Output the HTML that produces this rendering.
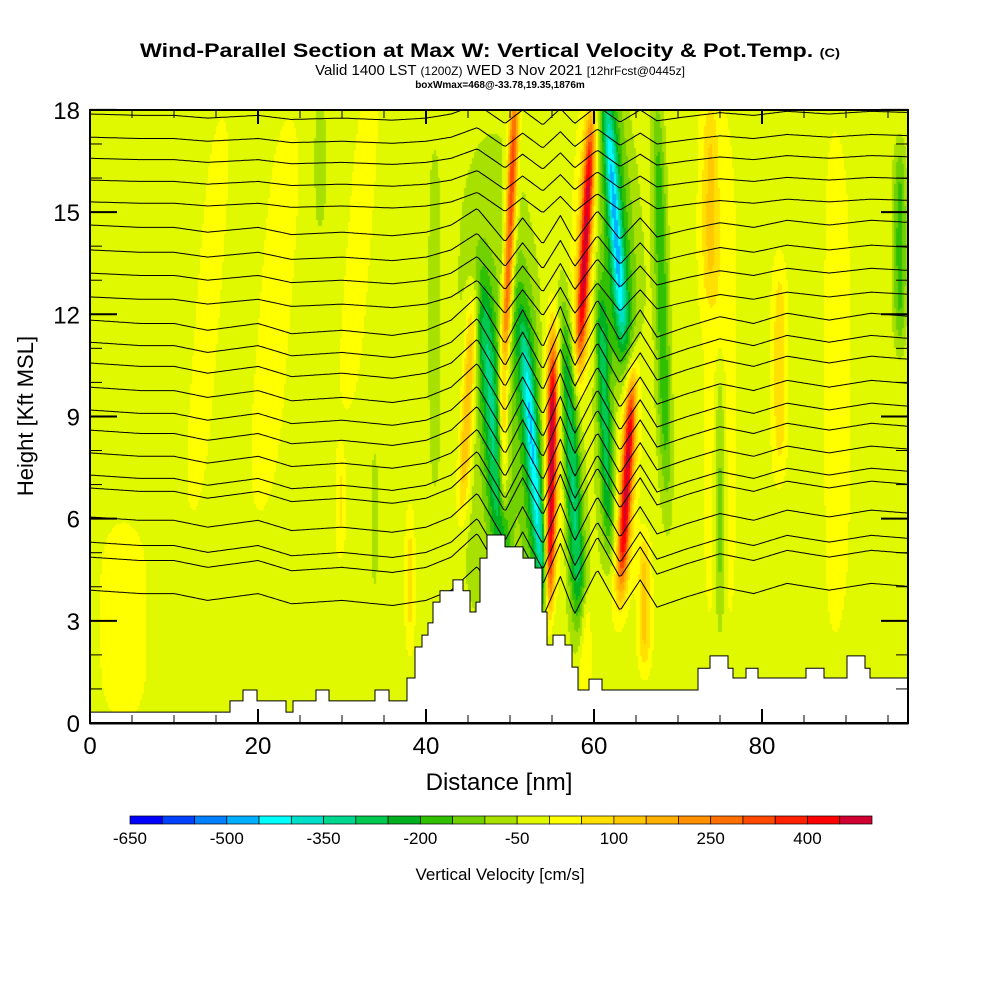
<!DOCTYPE html>
<html><head><meta charset="utf-8"><style>
body{margin:0;background:#fff;width:1000px;height:1000px;overflow:hidden;position:relative;font-family:"Liberation Sans",sans-serif}
#field{position:absolute;left:90px;top:110px}
#ov{position:absolute;left:0;top:0}
</style></head><body>
<canvas id="field" width="818" height="613"></canvas>
<svg id="ov" width="1000" height="1000" xmlns="http://www.w3.org/2000/svg">
<g font-family="Liberation Sans, sans-serif" text-anchor="middle">
<text x="490" y="57" font-size="19" font-weight="bold" textLength="700" lengthAdjust="spacingAndGlyphs">Wind-Parallel Section at Max W: Vertical Velocity &amp; Pot.Temp. <tspan font-size="12">(C)</tspan></text>
<text x="500" y="75" font-size="15">Valid 1400 LST <tspan font-size="12">(1200Z)</tspan> WED 3 Nov 2021 <tspan font-size="12">[12hrFcst@0445z]</tspan></text>
<text x="500" y="88" font-size="10" font-weight="bold">boxWmax=468@-33.78,19.35,1876m</text>
</g>
<g id="contours"></g>
<path id="terrain" fill="#fff" stroke="#000" stroke-width="1"/>
<rect x="90" y="110" width="818" height="613" fill="none" stroke="#000" stroke-width="2"/>
<g id="ticks" stroke="#000"></g>
<g id="labels" font-size="24"></g>
<text x="499" y="790" font-size="24" text-anchor="middle">Distance [nm]</text>
<text transform="translate(33,416) rotate(-90)" font-size="22" text-anchor="middle">Height [Kft MSL]</text>
<g id="cbar"></g>
<text x="500" y="880" font-size="17" text-anchor="middle">Vertical Velocity [cm/s]</text>
</svg>
<script>
// ---- data ----
const binColors=["#0000ff","#0040ff","#0080ff","#00b0ff","#00ffff","#00e0c8","#00d890","#00c850","#00b020","#30c000","#70d000","#a8e000","#e0f800","#ffff00","#ffe000","#ffc800","#ffb000","#ff9000","#ff7000","#ff4800","#ff2000","#ff0000","#d00030"];
const cbarLabels=[-650,-500,-350,-200,-50,100,250,400];
const xTicks=[0,20,40,60,80];
const yTicks=[0,3,6,9,12,15,18];
const baseW=-15;
// velocity features: center nm, center kft, sigma nm, sigma kft, tilt nm/kft, amplitude cm/s
const fX=[45,47.9,50,49.2,52.9,52.9,54.9,54.9,57.4,59.0,59.0,62.5,62.5,61.3,63.9,63.9,68.1,73.8,82.1,96.4,75,58.9,66,38.1,29.8,33.9,27.4,41,4,14,22,32,75,88,48,63,86];
const fH=[9.5,8.9,14.5,8,7.4,7.4,7.1,7.1,7.4,14.2,14.2,14.8,14.8,8.9,7.1,7.1,12.4,15.3,10.4,14,6.5,2.4,3.6,4.2,6.5,6,16.5,12,3,12,12,14,10,10,10,10,10];
const fSX=[0.8,1.2,0.6,0.6,0.7,1.8,0.55,1.3,1.0,0.6,1.3,0.7,1.8,0.8,0.6,1.4,0.8,1,0.8,0.8,0.6,0.8,0.8,0.5,0.5,0.4,0.7,0.7,3,1.5,2,1.5,2,2.5,5,4,2];
const fSH=[3.5,4.5,4.5,2,4,6,4,5,5,3.5,4.5,3.5,5,4,3,4,6,3,3,3,4,1.5,2,2,1.5,2,2,5,3,6,6,5,8,8,8,8,8];
const fTilt=[0.21,-0.29,0.16,0,-0.32,-0.3,0.06,0.06,-0.2,0.2,0.2,-0.28,-0.28,-0.15,0.22,0.22,-0.1,0,0,0,0,0,0,0,0,0,0,0,0,0.3,0.3,0.3,0,0,0,0,0];
const fAmp=[200,-230,400,200,-240,-180,440,150,-280,380,150,-240,-180,-220,380,170,-170,110,110,-160,-130,120,150,80,70,-80,-80,-70,35,35,35,35,40,40,-70,-50,-40];
// terrain steps (nm, kft)
const terrX=[0,16.67,18.21,19.88,23.33,24.17,26.9,28.45,33.93,35.6,37.74,38.69,39.52,40.24,40.83,41.67,43.21,44.4,45.24,45.95,46.43,47.26,49.4,51.55,52.98,53.81,54.4,55.12,56.55,57.38,58.1,59.4,60.95,72.38,73.81,75.95,76.55,78.1,79.52,85.24,87.38,90.12,92.26,92.86];
const terrH=[0.32,0.65,0.97,0.65,0.32,0.65,0.97,0.65,0.97,0.65,1.32,2.23,2.58,2.94,3.55,3.88,4.2,3.88,3.26,3.55,4.84,5.52,5.17,4.84,4.55,3.26,2.29,2.58,2.29,1.64,0.97,1.29,0.97,1.61,1.97,1.61,1.32,1.61,1.32,1.61,1.32,1.97,1.61,1.32];
// theta contour levels (kft at left edge) and displacement profile
const thetaLevels=[17.88,17.2,16.58,15.94,15.3,14.62,13.89,13.21,12.51,11.83,11.18,10.57,9.86,9.19,8.6,7.93,7.28,6.9,6.05,5.31,4.87,3.9];
const dispX=[0,6,10,14,20,24,30,36,40,43,46.1,49.4,51.5,53.9,56,57.7,60.4,63.1,65.5,67.5,71,75,79,83,88,93,98];
const dispY=[0,-0.1,-0.1,-0.3,-0.1,-0.4,-0.3,-0.45,-0.3,0,0.7,-0.7,0.3,-0.8,0.4,-0.7,0.6,-0.6,0.3,-0.5,-0.2,0.1,-0.1,0.2,0,0.2,0.1];

// ---- axes ----
const XMAX=97.38;
function sx(nm){return 90+nm*8.4;}
function sy(h){return 723-h*34.06;}
const NS="http://www.w3.org/2000/svg";
function mk(tag,attrs,parent){const e=document.createElementNS(NS,tag);for(const k in attrs)e.setAttribute(k,attrs[k]);parent.appendChild(e);return e;}

// ---- field ----
function colorFor(v){let i=Math.floor((v+650)/50);if(i<0)i=0;if(i>22)i=22;return binColors[i];}
const ctx=document.getElementById('field').getContext('2d');
const cell=2;
for(let py=0;py<613;py+=cell){
  const h=18-(py+cell/2)/34.06;
  for(let px=0;px<818;px+=cell){
    const nm=(px+cell/2)/8.4;
    let v=baseW;
    for(let k=0;k<fX.length;k++){
      const cx=fX[k]+fTilt[k]*(h-fH[k]);
      const dx=(nm-cx)/fSX[k], dh=(h-fH[k])/fSH[k];
      const e=dx*dx+dh*dh*dh*dh;
      if(e<12)v+=fAmp[k]*Math.exp(-e);
    }
    ctx.fillStyle=colorFor(v);
    ctx.fillRect(px,py,cell,cell);
  }
}

// ---- contours ----
function disp(nm){for(let i=1;i<dispX.length;i++){if(nm<=dispX[i]){const t=(nm-dispX[i-1])/(dispX[i]-dispX[i-1]);return dispY[i-1]+t*(dispY[i]-dispY[i-1]);}}return dispY[dispY.length-1];}
const cg=document.getElementById('contours');
thetaLevels.forEach((h0,li)=>{
  const amp=h0>15?0.4:(h0>12?0.7:(h0>6?1.0:1.0));
  let d="";
  for(let nm=0;nm<=XMAX+0.01;nm+=0.25){
    const h=h0+disp(nm)*amp;
    d+=(nm===0?"M":"L")+sx(nm).toFixed(1)+","+Math.max(110,sy(h)).toFixed(1);
  }
  const p=mk('path',{d:d,fill:"none",stroke:"#000","stroke-width":"1","stroke-linejoin":"round"},cg);
  
  
});

// ---- terrain ----
let td="M"+sx(0)+",724";
for(let i=0;i<terrX.length;i++){
  const x0=sx(terrX[i]), x1=sx(i+1<terrX.length?terrX[i+1]:XMAX), y=sy(terrH[i]);
  td+="L"+x0.toFixed(1)+","+y.toFixed(1)+"L"+x1.toFixed(1)+","+y.toFixed(1);
}
td+="L"+sx(XMAX)+",724Z";
document.getElementById('terrain').setAttribute('d',td);

// ---- ticks & labels ----
const tg=document.getElementById('ticks'), lg=document.getElementById('labels');
for(let nm=0;nm<=XMAX;nm+=5){
  const major=nm%20===0, L=major?14:8;
  mk('line',{x1:sx(nm),x2:sx(nm),y1:723,y2:723-L,"stroke-width":major?2:1},tg);
  mk('line',{x1:sx(nm),x2:sx(nm),y1:110,y2:110+L,"stroke-width":major?2:1},tg);
}
for(let h=0;h<=18;h++){
  const major=h%3===0, L=major?27:12;
  mk('line',{x1:90,x2:90+L,y1:sy(h),y2:sy(h),"stroke-width":major?2:1},tg);
  mk('line',{x1:908,x2:908-L,y1:sy(h),y2:sy(h),"stroke-width":major?2:1},tg);
}
xTicks.forEach(v=>{const t=mk('text',{x:sx(v),y:754,"text-anchor":"middle"},lg);t.textContent=v;
  
  });
yTicks.forEach(v=>{const t=mk('text',{x:80,y:sy(v)+9,"text-anchor":"end"},lg);t.textContent=v;
  
  });

// ---- colorbar ----
const cb=document.getElementById('cbar');
const bw=(872-130)/binColors.length;
binColors.forEach((c,i)=>{const r=mk('rect',{x:130+i*bw,y:816,width:bw,height:8,fill:c,stroke:"#000","stroke-width":"0.7"},cb);
  
  });
cbarLabels.forEach(v=>{const t=mk('text',{x:130+(v+650)/50*bw,y:844,"font-size":17,"text-anchor":"middle"},cb);t.textContent=v;
  
  });
</script>
</body></html>
